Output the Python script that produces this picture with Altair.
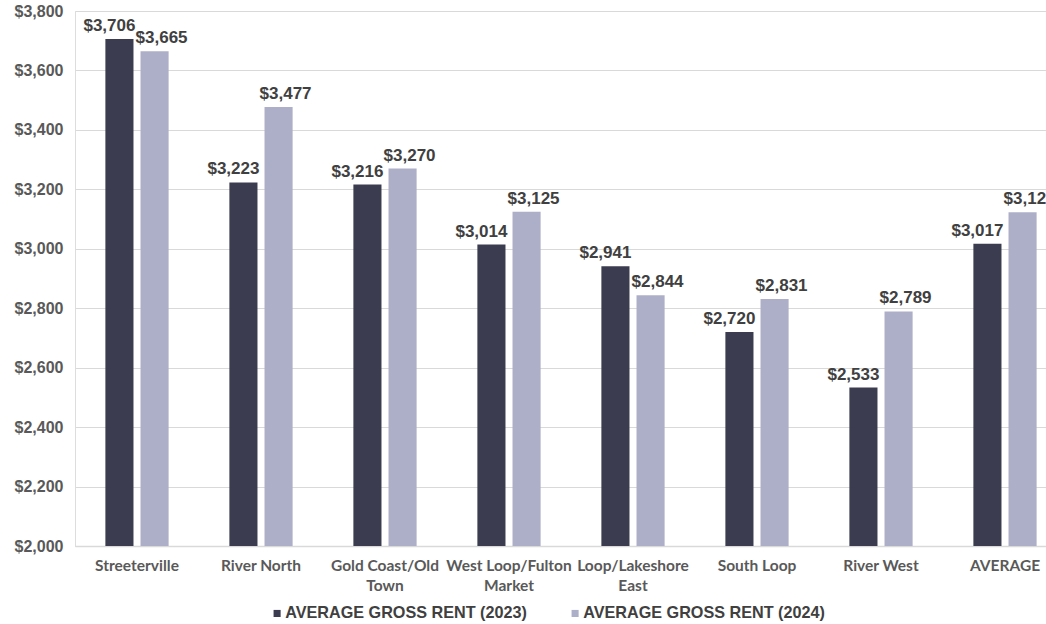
import altair as alt
import pandas as pd

# Neighbourhoods (line breaks mark two-line axis labels)
neighbourhoods = [
    "Streeterville",
    "River North",
    "Gold Coast/Old\nTown",
    "West Loop/Fulton\nMarket",
    "Loop/Lakeshore\nEast",
    "South Loop",
    "River West",
    "AVERAGE",
]
rent_2023 = [3706, 3223, 3216, 3014, 2941, 2720, 2533, 3017]
rent_2024 = [3665, 3477, 3270, 3125, 2844, 2831, 2789, 3123]
series_names = ["AVERAGE GROSS RENT (2023)", "AVERAGE GROSS RENT (2024)"]
series_colors = ["#3b3c4f", "#adafc8"]
y_ticks = [2000, 2200, 2400, 2600, 2800, 3000, 3200, 3400, 3600, 3800]
y_base = 2000

rows = []
for name, a, b in zip(neighbourhoods, rent_2023, rent_2024):
    rows.append({"area": name, "series": series_names[0], "rent": a})
    rows.append({"area": name, "series": series_names[1], "rent": b})
df = pd.DataFrame(rows)

x_enc = alt.X(
    "area:N",
    sort=neighbourhoods,
    scale=alt.Scale(paddingInner=0.49, paddingOuter=0.245, range=[0, 992]),
    axis=alt.Axis(
        title=None,
        labelAngle=0,
        labelExpr="split(datum.value, '\\n')",
        labelFont="Lato",
        labelFontWeight="bold",
        labelFontSize=15.5,
        labelColor="#595959",
        labelPadding=12,
        labelLineHeight=20,
        labelBaseline="top",
        domain=True,
        domainColor="#d9d9d9",
        domainWidth=1.5,
        ticks=False,
        grid=False,
    ),
)
offset_enc = alt.XOffset(
    "series:N",
    sort=series_names,
    scale=alt.Scale(paddingInner=0.2, paddingOuter=0),
)
y_enc = alt.Y(
    "rent:Q",
    scale=alt.Scale(domain=[2000, 3800], zero=False, nice=False),
    axis=alt.Axis(
        title=None,
        values=y_ticks,
        format="$,.0f",
        labelFont="Liberation Sans",
        labelFontWeight="bold",
        labelFontSize=16,
        labelColor="#595959",
        labelPadding=12,
        domain=False,
        ticks=False,
        grid=True,
        gridColor="#d9d9d9",
        gridWidth=1,
    ),
)

bars = alt.Chart(df).mark_bar().encode(
    x=x_enc,
    xOffset=offset_enc,
    y=y_enc,
    y2=alt.Y2Datum(y_base),
    color=alt.Color(
        "series:N",
        sort=series_names,
        scale=alt.Scale(domain=series_names, range=series_colors),
        legend=alt.Legend(
            title=None,
            orient="none",
            direction="horizontal",
            legendX=194,
            legendY=594,
            symbolType="square",
            symbolSize=50,
            symbolStrokeWidth=0,
            labelFont="Liberation Sans",
            labelFontWeight="bold",
            labelFontSize=16.2,
            labelColor="#404040",
            labelOffset=0,
            columnPadding=40,
            labelLimit=400,
        ),
    ),
)


def value_labels(series, shift):
    # value labels above each bar, nudged sideways so neighbours don't collide
    return (
        alt.Chart(df)
        .transform_filter(alt.datum.series == series)
        .mark_text(
            baseline="bottom",
            dy=-4,
            dx=shift,
            font="Liberation Sans",
            fontWeight="bold",
            fontSize=17,
            color="#404040",
        )
        .encode(
            x=alt.X("area:N", sort=neighbourhoods),
            xOffset=alt.XOffset("series:N", sort=series_names),
            y="rent:Q",
            text=alt.Text("rent:Q", format="$,.0f"),
        )
    )


chart = (
    alt.layer(bars, value_labels(series_names[0], -10), value_labels(series_names[1], 7))
    .properties(
        width=971,
        height=535,
        autosize=alt.AutoSizeParams(type="none"),
        padding={"left": 75, "top": 11, "right": 0, "bottom": 78},
    )
    .configure_view(stroke=None)
    .configure(background="white")
)

chart.save("out.html", embed_options={"renderer": "svg", "actions": False})
